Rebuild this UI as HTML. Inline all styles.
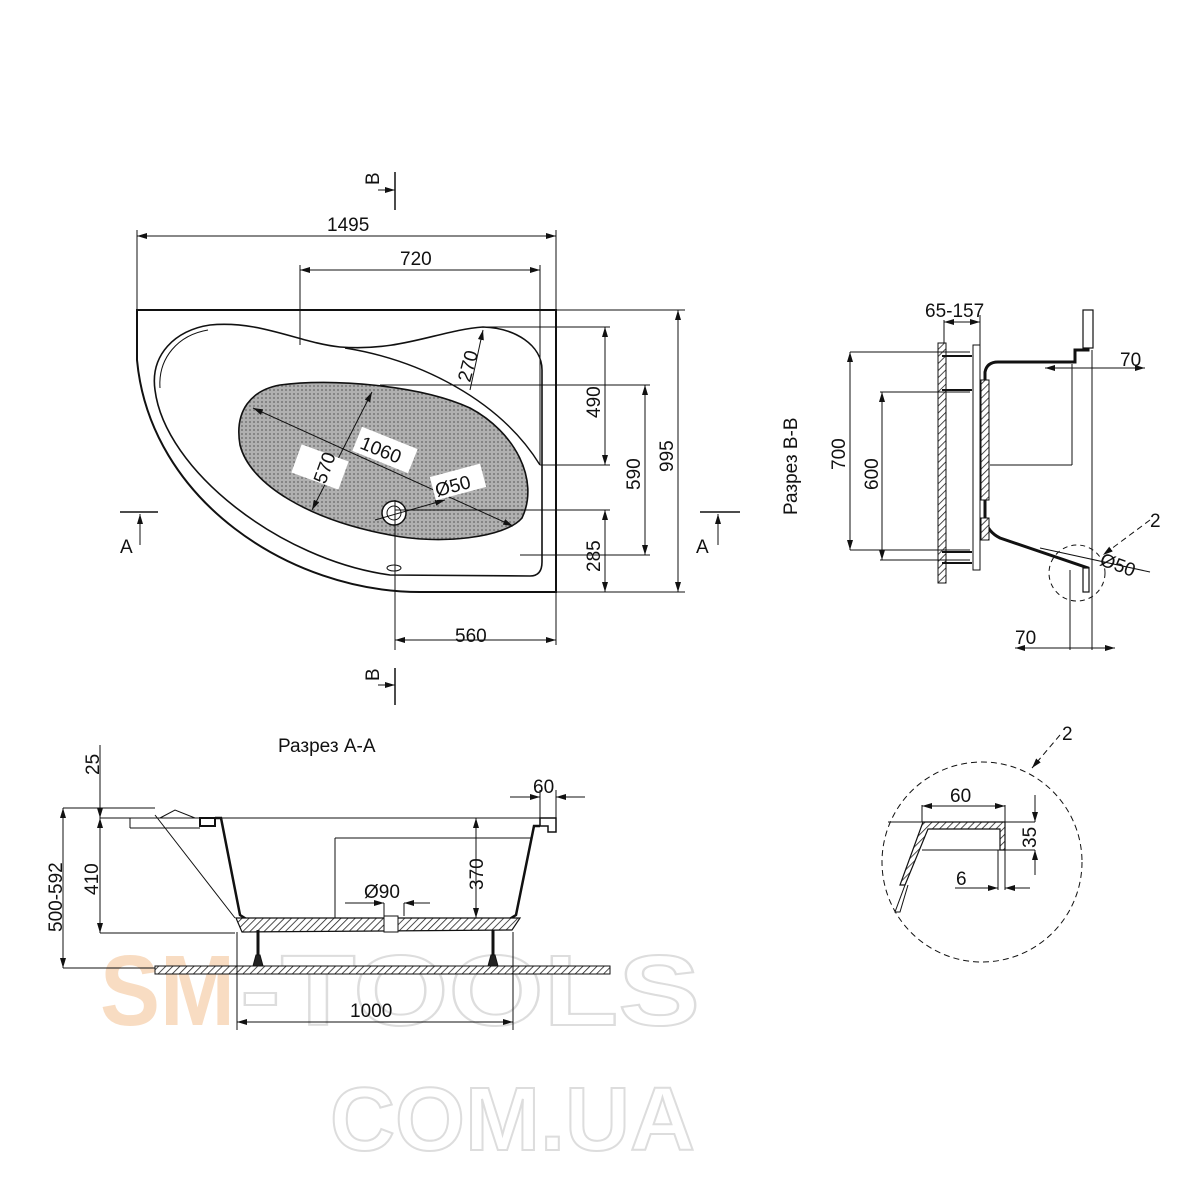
<!DOCTYPE html>
<html><head><meta charset="utf-8"><style>
html,body{margin:0;padding:0;background:#fff}
svg{display:block}
text{font-family:"Liberation Sans",sans-serif;fill:#111}
</style></head><body>
<svg width="1200" height="1200" viewBox="0 0 1200 1200" xmlns="http://www.w3.org/2000/svg">
<defs>
<pattern id="h" width="5" height="5" patternUnits="userSpaceOnUse" patternTransform="rotate(45)">
<rect width="5" height="5" fill="#fff"/><line x1="0" y1="0" x2="0" y2="5" stroke="#222" stroke-width="1.6"/></pattern>
<pattern id="dots" width="4" height="4" patternUnits="userSpaceOnUse">
<rect width="4" height="4" fill="#b0b0b0"/><circle cx="2" cy="2" r="1" fill="#777"/></pattern>
<marker id="a" viewBox="0 0 10 6" refX="10" refY="3" markerWidth="10" markerHeight="6" orient="auto-start-reverse" markerUnits="userSpaceOnUse"><path d="M0,0 L10,3 L0,6 Z" fill="#111"/></marker>
</defs>

<!-- watermark -->
<text x="100" y="1025" font-size="100" font-weight="bold" textLength="135" lengthAdjust="spacingAndGlyphs" style="fill:#f8dcc2">SM</text>
<text x="240" y="1025" font-size="100" font-weight="bold" textLength="460" lengthAdjust="spacingAndGlyphs" style="fill:#fff;stroke:#ddd;stroke-width:2">-TOOLS</text>
<text x="330" y="1150" font-size="90" font-weight="bold" textLength="365" lengthAdjust="spacingAndGlyphs" style="fill:#fff;stroke:#ddd;stroke-width:2">COM.UA</text>

<g fill="none" stroke="#111" stroke-width="1">
<!-- top view outline -->
<path d="M137,310 L556,310 L556,592 L420,592 C290,592 150,500 137,360 Z" stroke-width="2"/>
<path d="M210,325 C175,330 150,355 155,390 C165,470 280,560 390,575 L530,576 Q542,576 542,562 L542,370 C542,345 515,328 483,327 C440,330 400,352 340,347 C300,343 260,320 210,325 Z" stroke-width="1.6"/>
<path d="M208,330 C178,335 158,358 160,388" stroke-width="1"/>
<path d="M345,348 C420,360 500,400 540,465" stroke-width="1.4"/>
<path d="M280,385 C330,378 420,385 470,408 C515,432 540,480 522,518 C505,538 440,545 390,535 C310,520 250,485 240,445 C234,410 252,390 280,385 Z" fill="url(#dots)" stroke-width="1.6"/>
<circle cx="394" cy="513" r="12" fill="#fff" stroke-width="1.5"/>
<circle cx="394" cy="513" r="7"/>
<ellipse cx="394" cy="568" rx="7" ry="3"/>

<!-- top dims -->
<line x1="137" y1="236" x2="556" y2="236" marker-start="url(#a)" marker-end="url(#a)"/>
<line x1="137" y1="230" x2="137" y2="310"/><line x1="556" y1="230" x2="556" y2="310"/>
<line x1="300" y1="270" x2="540" y2="270" marker-start="url(#a)" marker-end="url(#a)"/>
<line x1="300" y1="265" x2="300" y2="345"/><line x1="540" y1="265" x2="540" y2="465"/>
<line x1="483" y1="327" x2="610" y2="327"/><line x1="380" y1="385" x2="650" y2="385"/>
<line x1="540" y1="465" x2="610" y2="465"/><line x1="395" y1="510" x2="610" y2="510"/>
<line x1="520" y1="555" x2="650" y2="555"/><line x1="556" y1="310" x2="685" y2="310"/>
<line x1="556" y1="592" x2="685" y2="592"/>
<line x1="605" y1="327" x2="605" y2="465" marker-start="url(#a)" marker-end="url(#a)"/>
<line x1="645" y1="385" x2="645" y2="555" marker-start="url(#a)" marker-end="url(#a)"/>
<line x1="605" y1="510" x2="605" y2="592" marker-start="url(#a)" marker-end="url(#a)"/>
<line x1="678" y1="310" x2="678" y2="592" marker-start="url(#a)" marker-end="url(#a)"/>
<line x1="395" y1="500" x2="395" y2="650"/><line x1="556" y1="592" x2="556" y2="645"/>
<line x1="395" y1="640" x2="556" y2="640" marker-start="url(#a)" marker-end="url(#a)"/>
<line x1="483" y1="330" x2="470" y2="390" marker-start="url(#a)"/>
<line x1="253" y1="408" x2="513" y2="526" marker-start="url(#a)" marker-end="url(#a)"/>
<line x1="372" y1="392" x2="312" y2="510" marker-start="url(#a)" marker-end="url(#a)"/>
<line x1="375" y1="520" x2="445" y2="500" marker-end="url(#a)"/>
<!-- section markers -->
<line x1="395" y1="172" x2="395" y2="210" stroke-width="1.5"/><line x1="378" y1="190" x2="395" y2="190" marker-end="url(#a)"/>
<line x1="395" y1="668" x2="395" y2="705" stroke-width="1.5"/><line x1="378" y1="685" x2="395" y2="685" marker-end="url(#a)"/>
<line x1="120" y1="512" x2="158" y2="512" stroke-width="1.5"/><line x1="140" y1="545" x2="140" y2="514" marker-end="url(#a)"/>
<line x1="700" y1="512" x2="740" y2="512" stroke-width="1.5"/><line x1="718" y1="545" x2="718" y2="514" marker-end="url(#a)"/>
</g>
<g font-size="19">
<text x="327" y="231">1495</text>
<text x="400" y="265">720</text>
<text x="600" y="418" transform="rotate(-90 600 418)">490</text>
<text x="640" y="490" transform="rotate(-90 640 490)">590</text>
<text x="600" y="572" transform="rotate(-90 600 572)">285</text>
<text x="673" y="472" transform="rotate(-90 673 472)">995</text>
<text x="455" y="642">560</text>
<text x="470" y="383" transform="rotate(-75 470 383)">270</text>
<rect x="305" y="442" width="30" height="50" fill="#fff" transform="rotate(-70 320 467)"/>
<text x="305" y="478" transform="rotate(-70 320 467)">570</text>
<rect x="355" y="437" width="60" height="26" fill="#fff" transform="rotate(22 385 450)"/>
<text x="360" y="458" transform="rotate(22 385 450)">1060</text>
<rect x="432" y="470" width="52" height="24" fill="#fff" transform="rotate(-15 458 482)"/>
<text x="434" y="491" transform="rotate(-15 458 482)">Ø50</text>
<text x="372" y="192" transform="rotate(-90 372 185)">B</text>
<text x="372" y="688" transform="rotate(-90 372 681)">B</text>
<text x="120" y="553">A</text>
<text x="696" y="553">A</text>
</g>

<!-- Section B-B -->
<text x="797" y="515" font-size="19" transform="rotate(-90 797 515)">Разрез В-В</text>
<rect x="938" y="343" width="8" height="240" fill="url(#h)" stroke="#111"/>
<rect x="973" y="345" width="7" height="225" fill="#fff" stroke="#111"/>
<g fill="none" stroke="#111">
<path d="M1088,592 L1088,568 L1000,538 Q988,532 985,520 L985,372 Q987,362 998,362 L1075,362 L1075,350 L1088,350 L1088,312" stroke-width="3"/>
<rect x="1083" y="310" width="10" height="38" fill="#fff" stroke-width="1.2"/>
<rect x="1083" y="568" width="6" height="24" fill="#fff" stroke-width="1.2"/>
<rect x="981" y="380" width="8" height="120" fill="url(#h)"/>
<rect x="981" y="518" width="8" height="22" fill="url(#h)"/>
<line x1="850" y1="352" x2="970" y2="352"/><line x1="880" y1="392" x2="970" y2="392"/>
<line x1="850" y1="550" x2="970" y2="550"/><line x1="880" y1="560" x2="970" y2="560"/>
<line x1="850" y1="352" x2="850" y2="550" marker-start="url(#a)" marker-end="url(#a)"/>
<line x1="882" y1="392" x2="882" y2="560" marker-start="url(#a)" marker-end="url(#a)"/>
<line x1="944" y1="320" x2="944" y2="343"/><line x1="980" y1="315" x2="980" y2="345"/>
<line x1="944" y1="322" x2="980" y2="322" marker-start="url(#a)" marker-end="url(#a)"/>
<line x1="1072" y1="364" x2="1072" y2="465"/><line x1="990" y1="465" x2="1072" y2="465"/>
<line x1="1092" y1="350" x2="1092" y2="650"/>
<line x1="1045" y1="368" x2="1145" y2="368" marker-start="url(#a)" marker-end="url(#a)"/>
<line x1="1070" y1="570" x2="1070" y2="650"/>
<line x1="1015" y1="648" x2="1115" y2="648" marker-start="url(#a)" marker-end="url(#a)"/>
<line x1="1040" y1="548" x2="1150" y2="572"/>
<circle cx="1077" cy="573" r="28" stroke-dasharray="5,4"/>
<line x1="1150" y1="520" x2="1103" y2="555" stroke-dasharray="6,4" marker-end="url(#a)"/>
<line x1="942" y1="356" x2="972" y2="356" stroke-width="2"/><line x1="942" y1="390" x2="972" y2="390" stroke-width="2"/>
<line x1="942" y1="552" x2="972" y2="552" stroke-width="2"/><line x1="942" y1="563" x2="972" y2="563" stroke-width="2"/>
</g>
<g font-size="19">
<text x="925" y="317">65-157</text>
<text x="1120" y="366">70</text>
<text x="845" y="470" transform="rotate(-90 845 470)">700</text>
<text x="878" y="490" transform="rotate(-90 878 490)">600</text>
<text x="1150" y="527">2</text>
<text x="1100" y="572" transform="rotate(20 1120 565)">Ø50</text>
<text x="1015" y="644">70</text>
</g>

<!-- Section A-A -->
<text x="278" y="752" font-size="19">Разрез А-А</text>
<g fill="none" stroke="#111">
<line x1="100" y1="818" x2="555" y2="818"/>
<path d="M200,818 L215,818 L215,826 L200,826 Z" fill="#fff" stroke-width="2"/>
<path d="M540,818 L556,818 L556,832 L548,832 L548,826 L540,826 Z" fill="#fff" stroke-width="1.5"/>
<path d="M215,818 L221,818 L240,915 L248,920 L508,920 L516,915 L534,826 L540,826" stroke-width="2.5"/>
<path d="M236,918 L520,918 L512,930 L242,932 Z" fill="url(#h)" stroke-width="1.2"/>
<rect x="384" y="916" width="14" height="16" fill="#fff"/>
<line x1="130" y1="818" x2="130" y2="828"/><line x1="130" y1="828" x2="200" y2="828"/>
<path d="M155,815 L235,918 M160,818 L175,810 L195,818"/>
<rect x="155" y="966" width="455" height="8" fill="url(#h)"/>
<line x1="258" y1="930" x2="258" y2="965" stroke-width="3"/><line x1="493" y1="930" x2="493" y2="965" stroke-width="3"/>
<path d="M253,966 L256,955 L260,955 L263,966 Z M488,966 L491,955 L495,955 L498,966 Z" fill="#222"/>
<line x1="100" y1="745" x2="100" y2="818" marker-end="url(#a)"/>
<line x1="100" y1="818" x2="100" y2="933" marker-start="url(#a)" marker-end="url(#a)"/>
<line x1="63" y1="808" x2="63" y2="968" marker-start="url(#a)" marker-end="url(#a)"/>
<line x1="63" y1="808" x2="155" y2="808"/><line x1="100" y1="933" x2="235" y2="933"/>
<line x1="63" y1="968" x2="155" y2="968"/>
<line x1="335" y1="838" x2="532" y2="838"/><line x1="335" y1="838" x2="335" y2="918"/>
<line x1="476" y1="818" x2="476" y2="918" marker-start="url(#a)" marker-end="url(#a)"/>
<line x1="345" y1="903" x2="384" y2="903" marker-end="url(#a)"/><line x1="430" y1="903" x2="404" y2="903" marker-end="url(#a)"/>
<line x1="384" y1="903" x2="384" y2="916"/><line x1="404" y1="903" x2="404" y2="916"/>
<line x1="510" y1="797" x2="540" y2="797" marker-end="url(#a)"/><line x1="585" y1="797" x2="556" y2="797" marker-end="url(#a)"/>
<line x1="540" y1="790" x2="540" y2="818"/><line x1="556" y1="790" x2="556" y2="818"/>
<line x1="237" y1="932" x2="237" y2="1030"/><line x1="513" y1="932" x2="513" y2="1030"/>
<line x1="237" y1="1022" x2="513" y2="1022" marker-start="url(#a)" marker-end="url(#a)"/>
</g>
<g font-size="19">
<text x="99" y="775" transform="rotate(-90 99 775)">25</text>
<text x="98" y="895" transform="rotate(-90 98 895)">410</text>
<text x="62" y="932" transform="rotate(-90 62 932)">500-592</text>
<text x="483" y="890" transform="rotate(-90 483 890)">370</text>
<text x="364" y="898">Ø90</text>
<text x="533" y="793">60</text>
<text x="350" y="1017">1000</text>
</g>

<!-- Detail 2 -->
<g fill="none" stroke="#111">
<circle cx="982" cy="862" r="100" stroke-dasharray="6,4"/>
<path d="M923,822 L1005,822 L1005,850 L1000,850 L1000,829 L928,829 L905,885 L900,885 Z" fill="url(#h)" stroke-width="1.2"/>
<path d="M905,885 L895,912 L900,912 L908,885" />
<line x1="888" y1="822" x2="923" y2="822"/>
<line x1="922" y1="805" x2="922" y2="822"/><line x1="1005" y1="805" x2="1005" y2="822"/>
<line x1="922" y1="806" x2="1005" y2="806" marker-start="url(#a)" marker-end="url(#a)"/>
<line x1="1005" y1="822" x2="1035" y2="822"/><line x1="922" y1="850" x2="1035" y2="850"/>
<line x1="1035" y1="795" x2="1035" y2="822" marker-end="url(#a)"/><line x1="1035" y1="875" x2="1035" y2="850" marker-end="url(#a)"/>
<line x1="998" y1="850" x2="998" y2="890"/><line x1="1005" y1="850" x2="1005" y2="890"/>
<line x1="955" y1="888" x2="998" y2="888" marker-end="url(#a)"/><line x1="1030" y1="888" x2="1005" y2="888" marker-end="url(#a)"/>
<line x1="1060" y1="735" x2="1032" y2="768" stroke-dasharray="6,4" marker-end="url(#a)"/>
</g>
<g font-size="19">
<text x="950" y="802">60</text>
<text x="1032" y="852" transform="rotate(-90 1032 848)">35</text>
<text x="956" y="885">6</text>
<text x="1062" y="740">2</text>
</g>
</svg>
</body></html>
